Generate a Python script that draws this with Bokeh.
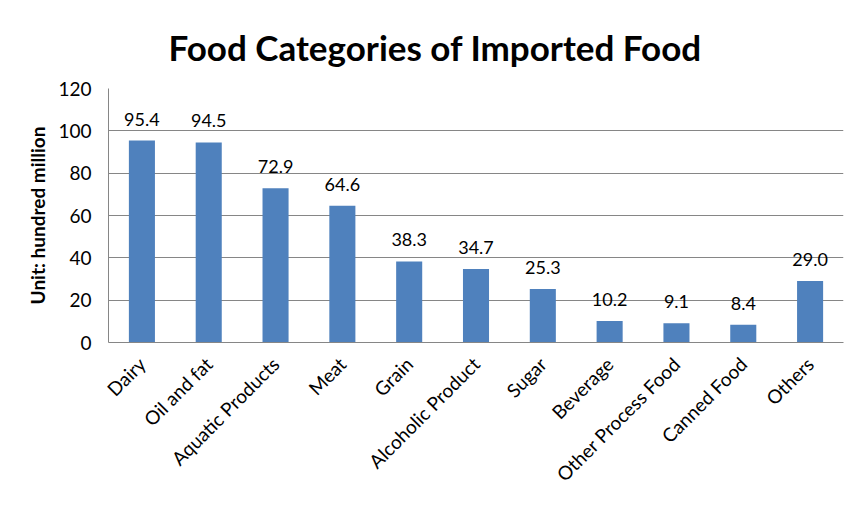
import math
from bokeh.plotting import figure
from bokeh.models import ColumnDataSource, LabelSet, Range1d, FixedTicker
from bokeh.core.properties import value
from bokeh.embed import file_html
from bokeh.resources import INLINE

categories = ["Dairy", "Oil and fat", "Aquatic Products", "Meat", "Grain",
              "Alcoholic Product", "Sugar", "Beverage", "Other Process Food",
              "Canned Food", "Others"]
values = [95.4, 94.5, 72.9, 64.6, 38.3, 34.7, 25.3, 10.2, 9.1, 8.4, 29.0]
value_labels = ["%.1f" % v for v in values]
y_ticks = [0, 20, 40, 60, 80, 100, 120]
title_text = "Food Categories of Imported Food"

FONT = "Lato"

src = ColumnDataSource(dict(cat=categories, val=values, lab=value_labels))

p = figure(x_range=categories, y_range=Range1d(0, 120), width=865, height=505,
           output_backend="svg", toolbar_location=None,
           min_border_left=108, min_border_right=22, min_border_top=88,
           min_border_bottom=163)

p.vbar(x="cat", top="val", width=0.39, source=src, color="#4F81BD", line_color=None)

labels = LabelSet(x="cat", y="val", text="lab", source=src, text_align="center",
                  text_baseline="alphabetic", y_offset=15, text_font=value(FONT),
                  text_font_size="18px", text_color="#000000")
p.add_layout(labels)

p.title.text = title_text
p.title.text_font = FONT
p.title.text_font_style = "bold"
p.title.text_font_size = "35px"
p.title.text_color = "#000000"
p.title.align = "left"
p.title.offset = 60
p.title.standoff = 42

p.outline_line_color = None
p.xgrid.grid_line_color = None
p.ygrid.grid_line_color = "#868686"
p.ygrid.grid_line_width = 1

p.yaxis.ticker = FixedTicker(ticks=y_ticks)
p.yaxis.axis_label = "Unit: hundred million"
p.yaxis.axis_label_text_font = FONT
p.yaxis.axis_label_text_font_style = "bold"
p.yaxis.axis_label_text_font_size = "19px"
p.yaxis.axis_label_text_color = "#000000"
p.yaxis.axis_label_standoff = 6
p.yaxis.major_label_text_font = FONT
p.yaxis.major_label_text_font_size = "19px"
p.yaxis.major_label_text_color = "#000000"
p.yaxis.major_label_standoff = 17
p.yaxis.major_tick_out = 0
p.yaxis.major_tick_in = 0
p.yaxis.minor_tick_out = 0
p.yaxis.minor_tick_in = 0
p.yaxis.axis_line_color = "#868686"

p.xaxis.major_label_orientation = math.pi / 4
p.xaxis.major_label_text_font = FONT
p.xaxis.major_label_text_font_size = "19px"
p.xaxis.major_label_text_color = "#000000"
p.xaxis.major_label_standoff = 18
p.xaxis.major_tick_out = 0
p.xaxis.major_tick_in = 0
p.xaxis.axis_line_color = "#868686"

open("out.html", "w").write(file_html(p, INLINE))
